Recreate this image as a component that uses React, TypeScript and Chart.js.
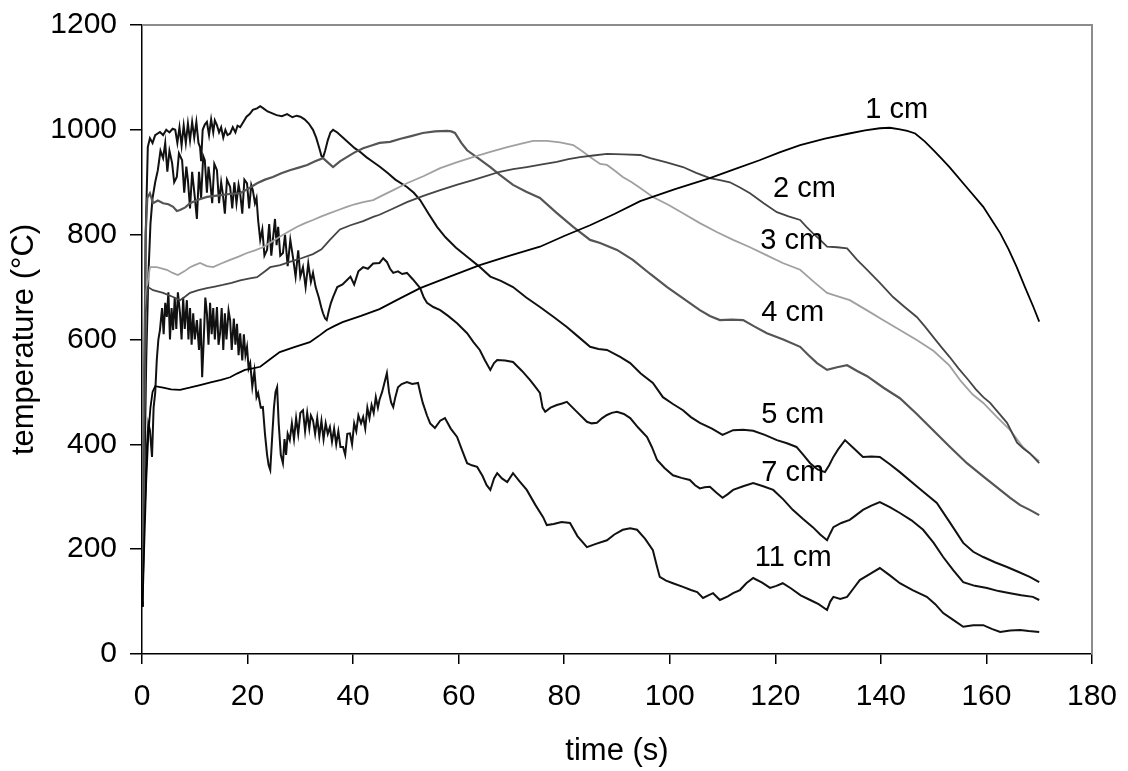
import React, { useEffect, useRef } from 'react';
import { Chart, registerables } from 'chart.js';

Chart.register(...registerables);

const FONT = '"Liberation Sans", Arial, Helvetica, sans-serif';

// [time (s), temperature (°C)]
const cm1: number[][] = [[0.1,90],[0.4,200],[0.8,330],[1.2,420],[1.6,470],[2.0,500],[2.5,511],[4,508],[5.5,505],[7.2,504],[9,508],[11,513],[13,518],[15,523],[16.7,528],[18,535],[19.5,542],[21,545],[22.4,548],[24.2,562],[26.1,576],[29,586],[31.8,595],[33.4,606],[35,618],[36.5,626],[38,633],[41.5,645],[45,658],[48.8,678],[52.7,698],[58.3,720],[64,742],[69.7,760],[75.4,777],[80.1,798],[84.9,818],[89.6,840],[94.4,864],[101,887],[107.6,908],[112.3,925],[117,942],[120.8,957],[124.7,971],[129.4,983],[134,993],[137,999],[139.8,1003],[141.7,1004],[143.6,1001],[145,998],[146.5,993],[148.3,978],[150,961],[151.5,945],[153,929],[156.2,891],[159.4,853],[161,828],[162.6,803],[164.2,772],[165.7,739],[167.3,700],[168.9,662],[170,634]];

const cm2: number[][] = [[0.1,100],[0.4,420],[0.7,650],[1.1,700],[2.1,694],[4,689],[5.9,681],[7.2,675],[8.2,682],[9.1,689],[10.7,694],[12.3,698],[13.8,701],[15.3,704],[17,708],[18.6,713],[20.2,716],[21.8,719],[23,728],[24.3,738],[26.2,742],[28,748],[30.2,755],[32.4,763],[34,772],[35.6,790],[37.5,810],[39.5,818],[41.9,826],[43.8,834],[45,838],[47.6,850],[50.2,862],[53.3,874],[56.5,885],[59.6,895],[62.7,904],[65.3,912],[67.8,920],[70.3,925],[72.9,929],[75.8,934],[78.6,939],[80.8,944],[83,948],[85.5,951],[88.1,954],[91.2,953],[94.4,952],[96.3,946],[99.4,938],[102.5,929],[105,918],[107.6,908],[109.5,904],[111.4,900],[113.3,890],[115.2,879],[117.8,860],[120.3,843],[122.5,835],[124.7,828],[125.9,815],[127.1,803],[128.5,790],[129.8,777],[131.7,776],[133.6,774],[135.5,752],[137.4,733],[139.9,707],[142.3,681],[144.5,662],[146.8,643],[148.4,624],[149.9,605],[151.5,585],[153,567],[154.7,545],[156.3,526],[158,505],[159.4,490],[160.7,479],[162.3,460],[163.9,441],[165.8,403],[167,392],[168.2,383],[170,364]];

const cm3: number[][] = [[0.1,100],[0.4,450],[0.8,690],[1.5,738],[2.8,738],[4.7,733],[5.8,727],[6.8,723],[8,730],[9.1,738],[10,742],[11,746],[12.3,740],[13.5,738],[15,745],[16.7,752],[18.3,758],[19.9,765],[21.4,770],[22.9,776],[24.5,786],[26.1,796],[27.8,806],[29.4,815],[30.9,822],[32.4,828],[34,835],[35.6,841],[37.2,847],[38.8,853],[40.3,858],[41.9,862],[43.8,866],[45,872],[47.6,885],[50.2,898],[53.4,912],[56.5,927],[59.6,938],[62.7,948],[66,958],[69.2,967],[71.7,973],[74.1,979],[76.7,979],[79.2,976],[81.7,971],[83.3,960],[84.9,948],[86.8,935],[88.1,933],[89.6,922],[91.1,910],[92.8,900],[94.4,889],[96.8,872],[99.7,857],[102.5,841],[105.7,822],[108.9,805],[112,790],[115.2,776],[118.3,761],[121.4,746],[124.7,733],[127.3,710],[129.8,689],[132,682],[134.1,675],[137.3,656],[140.4,637],[143.6,618],[146.8,599],[150,578],[153,550],[155.2,520],[157.4,495],[159.4,479],[162,452],[164.5,427],[166.9,395],[168.5,380],[170,368]];

const cm4: number[][] = [[0.1,100],[0.4,500],[0.7,800],[1.0,870],[1.5,879],[2.1,860],[3.0,865],[4.0,860],[5.0,858],[5.9,853],[6.6,845],[7.2,847],[8.2,852],[9.1,860],[10.5,866],[12.3,872],[13.8,874],[15.3,876],[17,878],[18.6,879],[20.2,888],[21.8,898],[23.3,905],[24.8,910],[26.4,917],[28,923],[29.7,928],[31.3,933],[32.8,940],[34.3,946],[35.2,938],[36.2,929],[37.5,940],[38.8,948],[40.3,957],[41.9,965],[43.5,970],[45,975],[47,977],[49,983],[51,988],[53.2,994],[55.5,997],[57.8,998],[58.6,997],[59.3,994],[60.5,975],[61.6,961],[63.8,945],[66,929],[67.8,914],[70.3,895],[72.8,882],[75.4,870],[78.5,842],[81.7,815],[84.9,790],[86.8,784],[90,771],[93,752],[96.3,725],[99.5,700],[102.6,678],[105.7,656],[107.6,645],[109.5,637],[111.7,638],[113.9,637],[116,625],[118.4,612],[121.5,600],[124.7,586],[126.3,570],[127.9,555],[129.8,542],[131.7,547],[133.6,551],[135.5,540],[137.4,530],[140.5,508],[143.6,488],[146.8,458],[149.9,427],[153.1,395],[156.3,364],[159.5,338],[162.6,313],[164.5,298],[166.4,284],[168.2,275],[170,265]];

const cm5: number[][] = [[0.1,90],[0.4,450],[0.7,800],[1.1,967],[1.5,984],[2.0,975],[2.5,990],[3.4,996],[4.0,990],[4.6,1000],[5.2,995],[5.8,1002],[6.3,1000],[6.7,975],[7.1,1005],[7.5,970],[7.9,1008],[8.3,975],[8.7,1012],[9.1,980],[9.5,1015],[9.9,985],[10.3,1015],[10.7,975],[11.0,967],[11.2,940],[11.5,1000],[11.9,1010],[12.3,1015],[12.7,990],[13.1,1020],[13.5,995],[13.8,1018],[14.2,1009],[14.6,995],[15.0,1005],[15.4,985],[15.8,1000],[16.2,990],[16.7,993],[17.2,1005],[17.7,995],[18.1,1008],[18.6,1005],[19.2,1015],[19.8,1025],[20.4,1030],[21.0,1038],[21.8,1041],[22.4,1045],[23.0,1041],[23.8,1035],[24.6,1032],[25.5,1028],[26.5,1026],[27.5,1030],[28.5,1024],[29.3,1027],[30,1025],[30.8,1020],[31.6,1012],[32.4,1000],[33,985],[33.6,965],[34.0,950],[34.3,947],[34.7,960],[35.2,980],[35.7,995],[36.2,1000],[37.0,995],[38,986],[39.2,975],[40.3,965],[41.3,958],[42.5,948],[43.6,940],[45,930],[46.5,918],[48,905],[50.2,891],[51.5,880],[52.7,866],[54.3,840],[55.9,815],[57.5,795],[59.5,775],[61.6,758],[63.8,740],[66,720],[68,712],[70.3,700],[72.8,680],[75.4,662],[78,643],[80.5,624],[82.7,605],[84.9,586],[86.5,582],[88.1,580],[90.6,567],[92.5,555],[94.5,535],[96.8,517],[98.7,490],[100.6,477],[102.5,465],[104,452],[105.7,441],[108,430],[110,418],[112,427],[113.9,428],[115.8,426],[118,418],[120.3,408],[122.2,402],[124,395],[125.3,380],[126.6,364],[128,352],[129.4,347],[130.2,360],[131,376],[132,392],[133.2,408],[134.9,392],[136.6,376],[138.2,377],[139.8,376],[141.7,362],[143.6,347],[147,318],[150.6,288],[153,252],[155.6,212],[157.5,195],[159.4,185],[161.6,175],[163.9,166],[166,157],[168.2,147],[170,137]];

const cm7: number[][] = [[0.1,90],[0.4,300],[0.8,560],[1.2,720],[1.6,820],[2.0,870],[2.5,900],[3.0,923],[3.5,960],[4.0,946],[4.4,975],[4.8,920],[5.2,960],[5.7,937],[6.1,900],[6.6,910],[7.0,955],[7.6,942],[8.0,880],[8.4,930],[8.7,904],[9.1,850],[9.5,920],[10.0,872],[10.4,830],[10.8,920],[11.2,870],[11.6,950],[11.9,942],[12.3,880],[12.6,930],[12.9,904],[13.3,860],[13.7,935],[14.2,923],[14.6,860],[15.0,900],[15.3,879],[15.7,840],[16.1,905],[16.7,891],[17.1,850],[17.5,900],[17.9,860],[18.3,895],[18.6,879],[19.0,840],[19.4,905],[19.9,898],[20.3,850],[20.7,895],[21.0,885],[21.4,860],[21.7,870],[22.0,828],[22.4,790],[22.8,810],[23.2,760],[23.7,771],[24.1,820],[24.5,760],[24.8,790],[25.2,830],[25.5,780],[25.8,815],[26.2,760],[26.7,765],[27.1,800],[27.6,740],[28.1,790],[28.6,757],[29.1,720],[29.6,770],[30.0,720],[30.5,738],[31.0,700],[31.5,745],[32.0,710],[32.4,727],[32.9,700],[33.5,680],[34.0,660],[34.3,650],[34.7,640],[35.0,637],[35.4,655],[35.8,670],[36.2,681],[37,700],[38,705],[38.8,713],[39.5,720],[40.2,705],[41,730],[41.9,738],[42.8,735],[43.8,745],[45,746],[45.7,755],[46.4,748],[47.0,735],[47.6,727],[48.5,730],[49.3,725],[50.2,727],[51.3,715],[52.7,698],[53.4,680],[54,670],[55.2,662],[56.5,656],[58,645],[59.7,631],[60.6,622],[61.6,612],[62.8,595],[64,580],[65,560],[66,542],[66.7,555],[67.3,561],[68.8,560],[70.3,557],[72,540],[73.5,523],[74.5,510],[75.4,498],[75.9,470],[76.4,462],[77.4,470],[78.6,475],[79.6,478],[80.5,481],[82.4,462],[84.3,443],[85.2,440],[86.2,441],[87.2,450],[88.1,456],[89,460],[90,462],[91.3,458],[92.5,450],[94,432],[95.7,414],[96.6,395],[97.6,370],[99,355],[100.6,341],[102.2,336],[103.8,332],[104.8,322],[105.7,316],[106.6,318],[107.6,319],[108.8,308],[110,298],[111,305],[112,313],[113.9,320],[115.8,326],[117.7,320],[119.6,313],[121.5,295],[123.3,275],[125.2,258],[127.1,242],[128.5,228],[129.8,217],[130.4,230],[131,242],[132.5,250],[134.1,256],[135.3,265],[136.6,275],[138.2,283],[139.8,290],[141.7,280],[143.6,269],[145.8,255],[148,237],[150,212],[151.8,185],[153.7,160],[155.6,137],[157.8,130],[160.1,126],[162.3,120],[164.5,116],[166.6,112],[168.8,109],[170,103]];

const cm11: number[][] = [[0.1,90],[0.3,230],[0.6,300],[0.9,390],[1.2,440],[1.5,427],[1.9,376],[2.2,470],[2.5,498],[2.8,561],[3.1,600],[3.4,618],[3.8,660],[4.1,610],[4.4,670],[4.7,643],[5.0,690],[5.3,600],[5.6,660],[5.9,618],[6.2,680],[6.5,620],[6.8,690],[7.2,650],[7.5,600],[7.8,680],[8.1,620],[8.5,675],[8.8,600],[9.1,660],[9.4,590],[9.7,650],[10.0,600],[10.4,637],[10.8,580],[11.1,640],[11.4,528],[11.7,600],[12.0,680],[12.3,650],[12.6,590],[12.9,670],[13.2,610],[13.5,660],[13.8,600],[14.2,662],[14.5,590],[14.8,612],[15.1,660],[15.4,580],[15.7,650],[16.0,600],[16.4,655],[16.7,637],[17.0,580],[17.4,640],[17.7,590],[18.0,630],[18.3,570],[18.6,612],[19.0,560],[19.3,610],[19.6,570],[19.9,586],[20.2,545],[20.5,555],[20.9,510],[21.3,540],[21.7,490],[22.0,498],[22.5,470],[22.9,471],[23.3,420],[23.7,380],[24.0,360],[24.3,351],[24.7,420],[25.0,470],[25.3,500],[25.6,509],[25.9,440],[26.3,380],[26.7,364],[27.0,410],[27.3,380],[27.6,420],[28.0,408],[28.4,440],[28.8,410],[29.2,450],[29.6,420],[30.0,460],[30.5,465],[30.9,425],[31.3,460],[31.7,430],[32.0,455],[32.4,446],[32.8,420],[33.2,450],[33.6,415],[34.0,445],[34.4,410],[34.8,440],[35.2,420],[35.6,433],[36.0,405],[36.4,430],[36.8,400],[37.2,425],[37.6,395],[38.1,395],[38.5,380],[38.9,420],[39.4,421],[39.8,400],[40.2,440],[40.6,425],[41.0,455],[41.5,440],[41.9,452],[42.3,430],[42.7,470],[43.1,450],[43.5,475],[43.9,460],[44.3,490],[44.7,470],[45.0,485],[45.5,500],[46.0,520],[46.4,536],[46.8,500],[47.2,480],[47.6,471],[48.0,490],[48.5,509],[49.2,515],[50.2,519],[51.2,515],[52.3,517],[52.8,495],[53.2,479],[54.0,455],[54.6,440],[55.5,431],[56.5,445],[57.4,450],[58.5,430],[59.7,414],[60.6,390],[61.6,364],[62.5,360],[63.5,357],[64.5,340],[65.3,322],[66,313],[66.7,335],[67.3,345],[68.2,335],[69.2,328],[70.3,345],[71.5,330],[72.9,313],[74.5,285],[76,261],[76.7,246],[78,248],[79.5,252],[81.1,250],[82.5,225],[84.3,204],[86,210],[88.1,217],[89.5,228],[91.1,237],[92.5,240],[93.8,237],[95.3,220],[96.8,198],[97.5,170],[98.1,147],[99.3,140],[100.6,135],[102.5,128],[104,122],[105.2,118],[106.3,107],[107.3,112],[108.2,116],[109.5,103],[111,110],[112,116],[113.3,122],[114.5,135],[115.8,145],[117.5,136],[119,126],[120.2,130],[121.4,135],[123,125],[124.8,112],[126.6,103],[128.2,95],[129.8,84],[130.4,100],[131,109],[132.3,105],[133.6,109],[134.8,125],[136,141],[137.8,152],[139.8,164],[141.7,150],[143.6,135],[146,122],[148.7,109],[150.3,95],[151.8,78],[153.7,65],[155.6,52],[157.5,55],[159.4,55],[161,48],[162.6,42],[164.5,45],[166.4,46],[168,44],[170,42]];

const seriesNames = ['1 cm', '2 cm', '3 cm', '4 cm', '5 cm', '7 cm', '11 cm'];
const seriesData = [cm1, cm2, cm3, cm4, cm5, cm7, cm11];
const seriesColors = ['#000000', '#454545', '#a0a0a0', '#555555', '#111111', '#111111', '#111111'];
const seriesWidths = [1.8, 1.8, 1.8, 2.2, 2.0, 2.0, 2.0];

// label text and data-coordinate positions
const labelText = ['1 cm', '2 cm', '3 cm', '4 cm', '5 cm', '7 cm', '11 cm'];
const labelX = [143.0, 125.5, 123.1, 123.3, 123.3, 123.3, 123.4];
const labelY = [1038, 888, 788, 651, 456, 346, 183];

const xTicksMax = 180;
const yTicksMax = 1200;

export default function App() {
  const ref = useRef<HTMLCanvasElement | null>(null);

  useEffect(() => {
    const canvas = ref.current;
    if (!canvas) return;

    const framePlugin = {
      id: 'frameAndLabels',
      afterDatasetsDraw(chart: any) {
        const { ctx, chartArea, scales } = chart;
        ctx.save();
        ctx.strokeStyle = '#8c8c8c';
        ctx.lineWidth = 2;
        ctx.beginPath();
        ctx.moveTo(chartArea.left, chartArea.top);
        ctx.lineTo(chartArea.right, chartArea.top);
        ctx.lineTo(chartArea.right, chartArea.bottom);
        ctx.stroke();
        ctx.fillStyle = '#000';
        ctx.font = `29px ${FONT}`;
        ctx.textAlign = 'center';
        ctx.textBaseline = 'middle';
        labelText.forEach((t, i) => {
          ctx.fillText(t, scales.x.getPixelForValue(labelX[i]), scales.y.getPixelForValue(labelY[i]));
        });
        ctx.restore();
      },
    };

    const chart = new Chart(canvas, {
      type: 'scatter',
      data: {
        datasets: seriesData.map((d, i) => ({
          label: seriesNames[i],
          data: d.map(([x, y]) => ({ x, y })),
          showLine: true,
          borderColor: seriesColors[i],
          backgroundColor: seriesColors[i],
          borderWidth: seriesWidths[i],
          pointRadius: 0,
          tension: 0,
        })),
      },
      options: {
        responsive: false,
        animation: false,
        devicePixelRatio: 1,
        layout: { padding: { top: 25, right: 36, left: 0, bottom: 0 } },
        plugins: { legend: { display: false }, tooltip: { enabled: false } },
        scales: {
          x: {
            type: 'linear',
            min: 0,
            max: xTicksMax,
            afterFit: (s: any) => { s.height = 117; s.paddingLeft = 0; s.paddingRight = 0; },
            ticks: { stepSize: 20, color: '#000', font: { family: FONT, size: 30 }, padding: 15, maxRotation: 0, callback: (v: any) => String(v) },
            grid: { drawOnChartArea: false, drawTicks: true, tickLength: 10, color: '#000', lineWidth: 1.5 },
            border: { color: '#000', width: 1.5 },
            title: { display: true, text: 'time (s)', color: '#000', font: { family: FONT, size: 31 }, padding: { top: 0, bottom: 1 } },
          },
          y: {
            type: 'linear',
            min: 0,
            max: yTicksMax,
            afterFit: (s: any) => { s.width = 142; s.paddingTop = 0; s.paddingBottom = 0; },
            ticks: { stepSize: 200, color: '#000', font: { family: FONT, size: 30 }, padding: 13, callback: (v: any) => String(v) },
            grid: { drawOnChartArea: false, drawTicks: true, tickLength: 12, color: '#000', lineWidth: 1.5 },
            border: { color: '#000', width: 1.5 },
            title: { display: true, text: 'temperature (°C)', color: '#000', font: { family: FONT, size: 31 }, padding: { top: 6, bottom: 0 } },
          },
        },
      },
      plugins: [framePlugin],
    } as any);

    return () => chart.destroy();
  }, []);

  return (
    <div style={{ position: 'absolute', left: 0, top: 0, width: 1128, height: 771, background: '#fff' }}>
      <canvas ref={ref} width={1128} height={771} style={{ display: 'block' }} />
    </div>
  );
}
